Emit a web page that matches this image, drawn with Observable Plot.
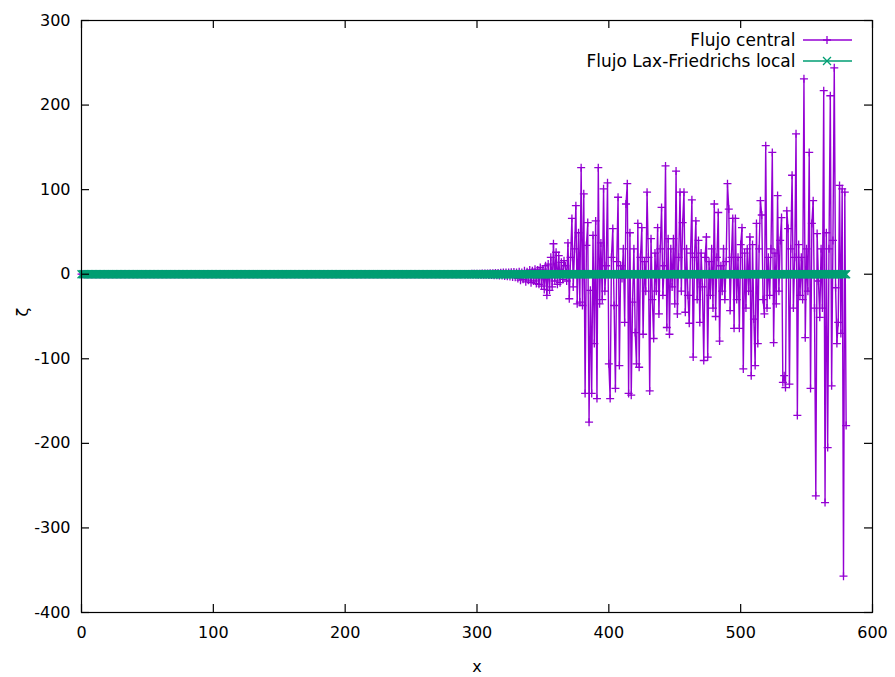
<!DOCTYPE html>
<html><head><meta charset="utf-8">
<script src="https://cdn.jsdelivr.net/npm/d3@7"></script>
<script src="https://cdn.jsdelivr.net/npm/@observablehq/plot@0.6"></script>
<style>body{margin:0;background:#fff} svg{font-family:"DejaVu Sans",sans-serif}</style>
</head><body><div id="chart"></div>
<script>
const xTicks = [0, 100, 200, 300, 400, 500, 600];
const yTicks = [-400, -300, -200, -100, 0, 100, 200, 300];
const seriesNames = ["Flujo central", "Flujo Lax-Friedrichs local"];
const xLabel = "x", yLabel = "ζ";
// Flujo central, x = 0, 1, 2, ... 580
const central = [
0,0,0,0,0,0,0,0,0,0,0,0,0,0,0,0,0,0,0,0,
0,0,0,0,0,0,0,0,0,0,0,0,0,0,0,0,0,0,0,0,
0,0,0,0,0,0,0,0,0,0,0,0,0,0,0,0,0,0,0,0,
0,0,0,0,0,0,0,0,0,0,0,0,0,0,0,0,0,0,0,0,
0,0,0,0,0,0,0,0,0,0,0,0,0,0,0,0,0,0,0,0,
0,0,0,0,0,0,0,0,0,0,0,0,0,0,0,0,0,0,0,0,
0,0,0,0,0,0,0,0,0,0,0,0,0,0,0,0,0,0,0,0,
0,0,0,0,0,0,0,0,0,0,0,0,0,0,0,0,0,0,0,0,
0,0,0,0,0,0,0,0,0,0,0,0,0,0,0,0,0,0,0,0,
0,0,0,0,0,0,0,0,0,0,0,0,0,0,0,0,0,0,0,0,
0,0,0,0,0,0,0,0,0,0,0,0,0,0,0,0,0,0,0,0,
0,0,0,0,0,0,0,0,0,0,0,0,0,0,0,0,0,0,0,0,
0,0,0,0,0,0,0,0,0,0,0,0,0,0,0,0,0,0,0,0,
0,0,0,0,0,0,0,0,0,0,0,0,0,0,0,0,0,0,0,0,
0,0,0,0,0,0,0,0,0,0,
0.2,-0.2,0.3,-0.2,0.3,-0.3,0.4,-0.3,0.4,-0.4,
0.5,-0.5,0.6,-0.5,0.7,-0.6,0.8,-0.7,0.9,-0.8,
1,-1,1.2,-1.1,1.3,-1.3,1.5,-1.4,1.7,-1.6,
1.9,-2,2.1,-2.4,2,-2.8,2.4,-3.2,2.6,-3.6,
2,-5,3,-7,2,-6,4,-9,3,-7,5,-10,4,-8,6,-11,5,-12,
8,-14,6,-18,10,-25,12,-19,20,-15,
36,-8,26,-12,22,-10,14,-6,16,10,
-8,37,-29,20,66,-15,30,81,-35,49,
-33,126,-37,95,-141,34,61,-175,-19,-141,
46,-82,63,-147,126,-35,37,-30,101,-20,
10,108,-106,-147,20,54,-37,-135,15,91,
-108,10,-5,30,-57,83,107,-141,49,-143,
-33,30,-69,-106,60,-110,20,55,-71,15,
-20,97,20,-138,42,-30,-76,25,-20,55,
-47,30,79,-25,10,128,-63,42,-71,30,
-15,42,-35,122,-47,20,97,-20,61,97,
-45,30,-25,-58,25,88,-98,20,63,-30,
40,-57,25,-15,-102,20,44,-98,15,-25,
30,-40,83,-50,20,73,-79,10,-20,30,
-30,15,107,77,-43,20,66,-64,66,-30,
20,-64,35,55,-112,25,-40,30,-20,44,
-120,35,-53,-108,60,-82,30,87,70,-30,
-47,152,-40,20,-25,30,144,-81,25,-35,
93,-20,40,67,-128,-120,-134,75,54,-130,
30,117,-40,20,166,-167,35,-25,20,-30,
231,-75,30,-20,144,-135,60,87,-40,-262,
48,-8,-51,30,-40,217,-270,49,-205,30,
211,-132,40,244,-16,-82,-57,105,-70,101,
-357,97,-179
];
// Flujo Lax-Friedrichs local, x = 0 ... 580
const laxFriedrichs = [
0,0,0,0,0,0,0,0,0,0,0,0,0,0,0,0,0,0,0,0,
0,0,0,0,0,0,0,0,0,0,0,0,0,0,0,0,0,0,0,0,
0,0,0,0,0,0,0,0,0,0,0,0,0,0,0,0,0,0,0,0,
0,0,0,0,0,0,0,0,0,0,0,0,0,0,0,0,0,0,0,0,
0,0,0,0,0,0,0,0,0,0,0,0,0,0,0,0,0,0,0,0,
0,0,0,0,0,0,0,0,0,0,0,0,0,0,0,0,0,0,0,0,
0,0,0,0,0,0,0,0,0,0,0,0,0,0,0,0,0,0,0,0,
0,0,0,0,0,0,0,0,0,0,0,0,0,0,0,0,0,0,0,0,
0,0,0,0,0,0,0,0,0,0,0,0,0,0,0,0,0,0,0,0,
0,0,0,0,0,0,0,0,0,0,0,0,0,0,0,0,0,0,0,0,
0,0,0,0,0,0,0,0,0,0,0,0,0,0,0,0,0,0,0,0,
0,0,0,0,0,0,0,0,0,0,0,0,0,0,0,0,0,0,0,0,
0,0,0,0,0,0,0,0,0,0,0,0,0,0,0,0,0,0,0,0,
0,0,0,0,0,0,0,0,0,0,0,0,0,0,0,0,0,0,0,0,
0,0,0,0,0,0,0,0,0,0,0,0,0,0,0,0,0,0,0,0,
0,0,0,0,0,0,0,0,0,0,0,0,0,0,0,0,0,0,0,0,
0,0,0,0,0,0,0,0,0,0,0,0,0,0,0,0,0,0,0,0,
0,0,0,0,0,0,0,0,0,0,0,0,0,0,0,0,0,0,0,0,
0,0,0,0,0,0,0,0,0,0,0,0,0,0,0,0,0,0,0,0,
0,0,0,0,0,0,0,0,0,0,0,0,0,0,0,0,0,0,0,0,
0,0,0,0,0,0,0,0,0,0,0,0,0,0,0,0,0,0,0,0,
0,0,0,0,0,0,0,0,0,0,0,0,0,0,0,0,0,0,0,0,
0,0,0,0,0,0,0,0,0,0,0,0,0,0,0,0,0,0,0,0,
0,0,0,0,0,0,0,0,0,0,0,0,0,0,0,0,0,0,0,0,
0,0,0,0,0,0,0,0,0,0,0,0,0,0,0,0,0,0,0,0,
0,0,0,0,0,0,0,0,0,0,0,0,0,0,0,0,0,0,0,0,
0,0,0,0,0,0,0,0,0,0,0,0,0,0,0,0,0,0,0,0,
0,0,0,0,0,0,0,0,0,0,0,0,0,0,0,0,0,0,0,0,
0,0,0,0,0,0,0,0,0,0,0,0,0,0,0,0,0,0,0,0,
0
];
const colors = ["#9400d3", "#009e73"];

const rowsC = central.map((v, i) => ({x: i, y: v}));
const rowsL = laxFriedrichs.map((v, i) => ({x: i, y: v}));
const W = 895, H = 677, mL = 81, mR = 23, mT = 20, mB = 65;
const fw = W - mL - mR, fh = H - mT - mB;

const plot = Plot.plot({
  width: W, height: H,
  marginLeft: mL, marginRight: mR, marginTop: mT, marginBottom: mB,
  style: {fontFamily: "DejaVu Sans, sans-serif", fontSize: "16px", background: "#fff", color: "#000"},
  x: {domain: [0, 600]},
  y: {domain: [-400, 300]},
  marks: [
    Plot.line(rowsC, {x: "x", y: "y", stroke: colors[0], strokeWidth: 1.4}),
    Plot.dot(rowsC, {x: "x", y: "y", symbol: "plus", r: 2.7, stroke: colors[0], strokeWidth: 1.3}),
    Plot.line(rowsL, {x: "x", y: "y", stroke: colors[1], strokeWidth: 1.3}),
    Plot.dot(rowsL, {x: "x", y: "y", symbol: "times", r: 3.7, stroke: colors[1], strokeWidth: 1.3}),
    Plot.frame({stroke: "#000", strokeWidth: 1.2}),
    Plot.tickX(xTicks, {x: d => d, insetTop: fh - 8, stroke: "#000", strokeWidth: 1.2}),
    Plot.tickX(xTicks, {x: d => d, insetBottom: fh - 8, stroke: "#000", strokeWidth: 1.2}),
    Plot.tickY(yTicks, {y: d => d, insetRight: fw - 8, stroke: "#000", strokeWidth: 1.2}),
    Plot.tickY(yTicks, {y: d => d, insetLeft: fw - 8, stroke: "#000", strokeWidth: 1.2}),
    Plot.axisX({ticks: xTicks, tickSize: 0, tickPadding: 14, label: null, tickFormat: d => String(d)}),
    Plot.axisY({ticks: yTicks, tickSize: 0, tickPadding: 11, label: null, tickFormat: d => String(d)}),
    Plot.text([xLabel], {frameAnchor: "bottom", dy: 54, lineAnchor: "middle", text: d => d}),
    Plot.text([yLabel], {frameAnchor: "left", dx: -59, rotate: -90, lineAnchor: "middle", text: d => d}),
    Plot.text([seriesNames[0]], {frameAnchor: "top-right", dx: -77, dy: 20, lineAnchor: "middle", textAnchor: "end", fontSize: 17, text: d => d}),
    Plot.text([seriesNames[1]], {frameAnchor: "top-right", dx: -77, dy: 41, lineAnchor: "middle", textAnchor: "end", fontSize: 17, text: d => d})
  ]
});
document.getElementById("chart").appendChild(plot);

// legend samples
const svg = d3.select(plot);
const leg = svg.append("g");
[[40, d3.symbolPlus, 23, colors[0]], [61, d3.symbolTimes, 43, colors[1]]].forEach(([y, sym, size, c]) => {
  leg.append("line").attr("x1", 803).attr("x2", 852).attr("y1", y).attr("y2", y)
    .attr("stroke", c).attr("stroke-width", 1.3);
  leg.append("path").attr("d", d3.symbol(sym, size)()).attr("transform", `translate(827,${y})`)
    .attr("fill", "none").attr("stroke", c).attr("stroke-width", 1.3);
});
</script>
</body></html>
